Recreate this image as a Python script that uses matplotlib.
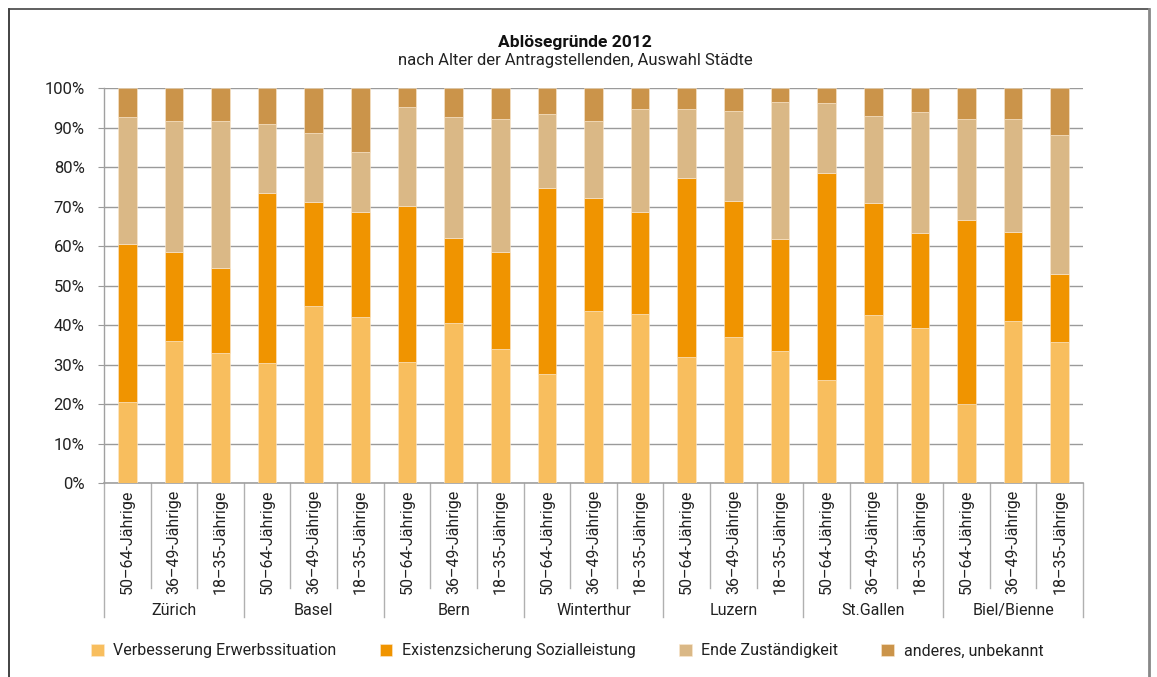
import matplotlib
matplotlib.use("agg")
import matplotlib.pyplot as plt
import numpy as np

plt.rcParams['font.family'] = ['Roboto', 'DejaVu Sans']

cities = ['Zürich', 'Basel', 'Bern', 'Winterthur', 'Luzern', 'St.Gallen', 'Biel/Bienne']
ages = ['50–64-Jährige', '36–49-Jährige', '18–35-Jährige']

# shares in % per bar (city x age group, in order)
erwerb = [20.5, 35.9, 32.9, 30.3, 44.8, 42.1, 30.6, 40.5, 33.8, 27.7, 43.5,
          42.7, 32.0, 37.0, 33.4, 26.1, 42.6, 39.3, 20.1, 41.0, 35.8]
existenz = [40.0, 22.6, 21.6, 43.2, 26.3, 26.5, 39.6, 21.5, 24.7, 47.0, 28.7,
            25.9, 45.3, 34.4, 28.3, 52.5, 28.2, 23.9, 46.4, 22.5, 17.1]
ende = [32.2, 33.1, 37.1, 17.4, 17.5, 15.2, 25.1, 30.7, 33.7, 18.7, 19.5,
        26.2, 17.5, 22.9, 34.7, 17.5, 22.0, 30.6, 25.6, 28.6, 35.3]
anderes = [7.3, 8.4, 8.4, 9.1, 11.4, 16.2, 4.7, 7.3, 7.8, 6.6, 8.3,
           5.2, 5.2, 5.7, 3.6, 3.9, 7.2, 6.2, 7.9, 7.9, 11.8]

series = [erwerb, existenz, ende, anderes]
names = ['Verbesserung Erwerbssituation', 'Existenzsicherung Sozialleistung',
         'Ende Zuständigkeit', 'anderes, unbekannt']
colors = ['#F8BE5E', '#F09400', '#DAB886', '#CB944A']

fig = plt.figure(figsize=(11.57, 6.77), dpi=100)
W, H = 1157, 677
ax = fig.add_axes([104 / W, 1 - 483 / H, (1083 - 104) / W, (483 - 88) / H])

x = np.arange(len(erwerb))
bottom = np.zeros(len(x))
for vals, c, n in zip(series, colors, names):
    ax.bar(x, vals, 0.40, bottom=bottom, color=c, label=n,
           edgecolor='#fbe9d0', linewidth=0.4, zorder=3)
    bottom += np.array(vals)

ax.set_xlim(-0.5, len(x) - 0.5)
ax.set_ylim(0, 100)
ax.set_yticks(np.arange(0, 101, 10))
ax.set_yticklabels([f'{v}%' for v in range(0, 101, 10)], fontsize=12, color='#222222')
ax.yaxis.grid(True, color='#9a9a9a', linewidth=1.0, zorder=0)
ax.tick_params(axis='y', length=4, color='#9a9a9a', pad=10)
ax.set_xticks([])
for s in ['top', 'right']:
    ax.spines[s].set_visible(False)
ax.spines['left'].set_color('#a0a0a0')
ax.spines['bottom'].set_color('#a0a0a0')
ax.spines['left'].set_linewidth(1.0)
ax.spines['bottom'].set_linewidth(1.2)

# category axis: age labels, city labels and separators
trans = ax.get_xaxis_transform()
for i in range(len(x)):
    ax.text(x[i], -0.016, ages[i % 3], rotation=90, ha='center', va='top',
            fontsize=11.5, color='#222222', transform=trans)
for k in range(len(x) + 1):
    y_end = -0.34 if k % 3 == 0 else -0.267
    ax.plot([k - 0.5, k - 0.5], [0, y_end], color='#b0b0b0', linewidth=1.0,
            transform=trans, clip_on=False)
for j, city in enumerate(cities):
    ax.text(3 * j + 1, -0.323, city, ha='center', va='center', fontsize=11.5,
            color='#222222', transform=trans)

fig.text(575 / W, 1 - 43 / H, 'Ablösegründe 2012', ha='center', va='center',
         fontsize=12.5, fontweight='bold', color='#111111')
fig.text(575 / W, 1 - 61 / H, 'nach Alter der Antragstellenden, Auswahl Städte',
         ha='center', va='center', fontsize=12, color='#222222')

leg = fig.legend(loc='center', bbox_to_anchor=(567 / W, 1 - 651 / H), ncol=4,
                 frameon=False, fontsize=11.5, handlelength=0.8, handleheight=0.8,
                 handletextpad=0.6, columnspacing=2.7)
for t in leg.get_texts():
    t.set_color('#222222')

# outer frame
fig.add_artist(plt.Line2D([9 / W, 9 / W], [0, 1 - 9 / H], color='#222222',
                          linewidth=1.2, transform=fig.transFigure))
fig.add_artist(plt.Line2D([9 / W, 1149 / W], [1 - 9 / H, 1 - 9 / H], color='#444444',
                          linewidth=1.2, transform=fig.transFigure))
fig.add_artist(plt.Line2D([1149 / W, 1149 / W], [0, 1 - 9 / H], color='#888888',
                          linewidth=2.0, transform=fig.transFigure))

fig.savefig('out.png', dpi=100)
plt.close()
